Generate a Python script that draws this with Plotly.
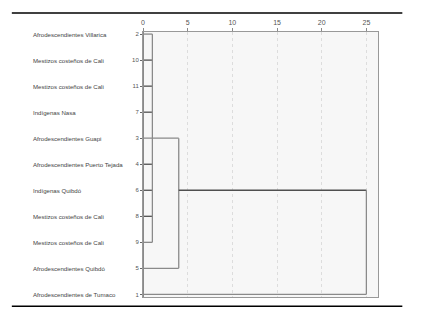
import plotly.graph_objects as go

# Row order as shown (top to bottom)
row_labels = [
    "Afrodescendientes Villarica",
    "Mestizos costeños de Cali",
    "Mestizos costeños de Cali",
    "Indígenas Nasa",
    "Afrodescendientes Guapi",
    "Afrodescendientes Puerto Tejada",
    "Indígenas Quibdó",
    "Mestizos costeños de Cali",
    "Mestizos costeños de Cali",
    "Afrodescendientes Quibdó",
    "Afrodescendientes de Tumaco",
]
case_ids = [2, 10, 11, 7, 3, 4, 6, 8, 9, 5, 1]

# Merge steps as drawn: (case ids joined, rescaled distance)
clusterA_members = [2, 10, 11, 7, 4, 6, 8, 9]
clusterA_height = 1.05
clusterB_members = [3, 5]
clusterB_height = 4.0
final_members = [6, 1]
final_height = 25.0
final_from = [clusterB_height, 0.0]

x_ticks = [0, 5, 10, 15, 20, 25]

row_of = {c: i for i, c in enumerate(case_ids)}
line_col = "#8a8a8a"
dark_col = "#505050"

OFF = 8  # page body margin
L, T = 143 - OFF, 32 - OFF
R = 431 - (377.7 - OFF)
B = 310 - (296.7 - OFF)
PW = 431 - L - R
PH = 310 - T - B

fig = go.Figure()

def seg(x0, x1, y0, y1, color=line_col, width=1.3):
    fig.add_trace(go.Scatter(x=[x0, x1], y=[y0, y1], mode="lines",
                             line=dict(color=color, width=width),
                             hoverinfo="skip", showlegend=False))

# Cluster A
for c in clusterA_members:
    col = dark_col if c in (10, 11, 7, 4, 6, 8) else line_col
    seg(0, clusterA_height, row_of[c], row_of[c], col)
rowsA = [row_of[c] for c in clusterA_members]
seg(clusterA_height, clusterA_height, min(rowsA), max(rowsA))

# Cluster B
for c in clusterB_members:
    seg(0, clusterB_height, row_of[c], row_of[c])
rowsB = [row_of[c] for c in clusterB_members]
seg(clusterB_height, clusterB_height, min(rowsB), max(rowsB))

# Final merge
for c, f in zip(final_members, final_from):
    col = dark_col if c == 6 else line_col
    seg(f, final_height, row_of[c], row_of[c], col)
rowsF = [row_of[c] for c in final_members]
seg(final_height, final_height, min(rowsF), max(rowsF))

# Left axis line
seg(0, 0, -0.08, 10.1, "#8a8a8a", 2)

def px(xpage):
    return (xpage - OFF - L) / PW

def py(ypage):
    return (310 - (ypage - OFF) - B) / PH

# Row labels
for i, lab in enumerate(row_labels):
    fig.add_annotation(x=px(31), xref="x domain", y=i, yref="y", text=lab,
                       showarrow=False, xanchor="left", yanchor="middle",
                       font=dict(size=6.1, color="#444444"))

fig.update_layout(
    width=431, height=310,
    margin=dict(l=L, r=R, t=T, b=B, autoexpand=False),
    paper_bgcolor="white", plot_bgcolor="#f7f7f7",
    font=dict(family="Liberation Sans, Arial", size=6, color="#555555"),
    xaxis=dict(side="top", range=[0, 26.3], tickvals=x_ticks,
               ticktext=[str(v) for v in x_ticks], automargin=False,
               showgrid=True, gridcolor="#dddddd", griddash="dot", gridwidth=1,
               zeroline=False, ticks="outside", ticklen=3, tickcolor="#888888",
               showline=True, linecolor="#999999", mirror=True,
               tickfont=dict(size=7, color="#555555")),
    yaxis=dict(range=[10.1, -0.08], tickvals=list(range(len(case_ids))),
               ticktext=[str(c) for c in case_ids], automargin=False,
               showgrid=False, zeroline=False, ticks="outside", ticklen=2,
               tickcolor="#666666",
               showline=True, linecolor="#999999", mirror=True,
               tickfont=dict(size=6, color="#555555")),
    shapes=[
        dict(type="line", xref="paper", yref="paper",
             x0=px(12), x1=px(402), y0=py(13), y1=py(13),
             line=dict(color="black", width=1.5)),
        dict(type="line", xref="paper", yref="paper",
             x0=px(12), x1=px(402), y0=py(306), y1=py(306),
             line=dict(color="black", width=1.5)),
    ],
)

fig.write_html("out.html")
